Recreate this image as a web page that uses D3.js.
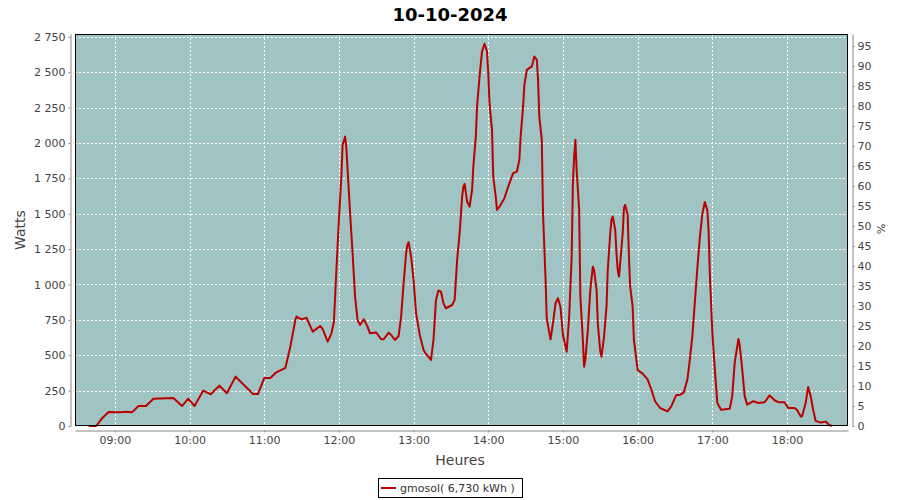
<!DOCTYPE html>
<html><head><meta charset="utf-8">
<script src="https://cdn.jsdelivr.net/npm/d3@7"></script>
<style>body{margin:0;background:#fff}svg{display:block}text{font-family:"DejaVu Sans",sans-serif}</style>
</head><body><svg id="c" width="900" height="500"></svg>
<script>
const title = "10-10-2024";
const seriesName = "gmosol( 6,730 kWh )";
const leftTicks = [0,250,500,750,1000,1250,1500,1750,2000,2250,2500,2750];
const rightTicks = [0,5,10,15,20,25,30,35,40,45,50,55,60,65,70,75,80,85,90,95];
const hourTicks = ["09:00","10:00","11:00","12:00","13:00","14:00","15:00","16:00","17:00","18:00"];
const times = ["08:39","08:45","08:50","08:55","09:05","09:09","09:14","09:19","09:25","09:31","09:47","09:54","09:59","10:04","10:11","10:17","10:24","10:30","10:37","10:51","10:55","11:00","11:05","11:09","11:17","11:21","11:25","11:26","11:30","11:34","11:39","11:45","11:47","11:51","11:54","11:56","11:58","12:00","12:02","12:03","12:05","12:06","12:07","12:09","12:11","12:13","12:15","12:17","12:20","12:23","12:25","12:30","12:34","12:36","12:40","12:42","12:45","12:48","12:50","12:52","12:54","12:55","12:56","12:58","13:00","13:02","13:05","13:08","13:10","13:14","13:16","13:18","13:20","13:22","13:24","13:26","13:31","13:33","13:35","13:37","13:39","13:40","13:41","13:43","13:45","13:47","13:48","13:50","13:51","13:53","13:55","13:57","13:59","14:00","14:01","14:03","14:04","14:06","14:07","14:09","14:13","14:16","14:20","14:23","14:25","14:26","14:28","14:29","14:31","14:35","14:37","14:39","14:40","14:41","14:43","14:44","14:46","14:47","14:50","14:52","14:54","14:56","14:58","15:00","15:03","15:05","15:07","15:08","15:09","15:10","15:11","15:13","15:14","15:16","15:17","15:18","15:20","15:22","15:24","15:25","15:27","15:28","15:30","15:31","15:33","15:35","15:36","15:38","15:39","15:40","15:42","15:43","15:44","15:45","15:46","15:48","15:49","15:50","15:52","15:53","15:54","15:56","15:57","15:59","16:00","16:04","16:08","16:11","16:14","16:18","16:24","16:27","16:31","16:34","16:37","16:40","16:42","16:44","16:46","16:48","16:50","16:52","16:54","16:56","16:57","16:58","17:00","17:02","17:04","17:07","17:14","17:16","17:18","17:21","17:22","17:24","17:26","17:28","17:33","17:37","17:42","17:46","17:50","17:53","17:58","18:01","18:06","18:08","18:11","18:12","18:15","18:17","18:19","18:21","18:23","18:27","18:31","18:34","18:36"];
const watts = [0,0,57,99,97,101,98,141,141,193,198,141,193,141,250,224,285,231,349,226,226,339,339,375,410,561,749,773,754,764,667,707,684,596,655,737,1103,1456,1763,1987,2045,1963,1810,1504,1221,914,749,714,754,702,655,660,613,613,660,643,608,636,773,1009,1221,1280,1299,1197,1032,797,643,537,509,467,608,891,957,950,867,832,855,891,1174,1362,1621,1692,1711,1586,1550,1669,1833,2045,2258,2470,2646,2701,2646,2494,2281,2093,1763,1621,1527,1550,1610,1692,1787,1798,1881,2045,2258,2411,2517,2541,2611,2588,2447,2187,2022,1500,1044,760,613,726,867,903,843,643,525,773,1197,1716,1900,2022,1810,1527,914,608,419,467,679,961,1126,1103,961,726,525,490,631,843,1103,1362,1456,1480,1386,1221,1103,1056,1150,1362,1539,1562,1492,1197,985,843,608,467,396,370,330,258,175,127,103,139,218,220,235,330,474,640,879,1118,1333,1500,1583,1524,1381,1070,665,402,163,115,122,211,450,615,569,402,211,151,175,163,168,216,182,168,168,127,127,115,67,67,163,275,211,115,36,24,31,7,0];
const xStart = "08:28", xEnd = "18:49";
const wattsMax = 2770, pctMax = 98;

const parse = d3.timeParse("%H:%M");
const data = times.map((t,i)=>({t:parse(t), w:watts[i]}));
const svg = d3.select("#c");
const L=75, R=848, T=34, B=426;
const x = d3.scaleTime().domain([parse(xStart), parse(xEnd)]).range([L,R]);
const y = d3.scaleLinear().domain([0,wattsMax]).range([B,T]);
const y2 = d3.scaleLinear().domain([0,pctMax]).range([B,T]);

svg.append("rect").attr("x",L).attr("y",T).attr("width",R-L).attr("height",B-T).attr("fill","#9fc4c3");
const g = svg.append("g").attr("stroke","#fff").attr("stroke-dasharray","2,2").attr("stroke-width",1);
hourTicks.forEach(h=>{const px=Math.round(x(parse(h)))+0.5; g.append("line").attr("x1",px).attr("x2",px).attr("y1",T).attr("y2",B);});
leftTicks.forEach(v=>{if(v===0)return; const py=Math.round(y(v))+0.5; g.append("line").attr("x1",L).attr("x2",R).attr("y1",py).attr("y2",py);});

svg.append("path").datum(data).attr("fill","none").attr("stroke","#bb0000").attr("stroke-width",2)
  .attr("stroke-linejoin","round").attr("d",d3.line().x(d=>x(d.t)).y(d=>y(d.w)));

svg.append("rect").attr("x",L+0.5).attr("y",T+0.5).attr("width",R-L-1).attr("height",B-T-1).attr("fill","none").attr("stroke","#000");

function styleAxis(sel){
  sel.selectAll(".domain").attr("stroke","#888");
  sel.selectAll(".tick line").attr("stroke","#888");
  sel.selectAll(".tick text").attr("fill","#444").style("font-size","11px").style("font-family","DejaVu Sans, sans-serif");
}
const ax = svg.append("g").attr("transform",`translate(0,${B+4.5})`)
  .call(d3.axisBottom(x).tickValues(hourTicks.map(parse)).tickFormat(d3.timeFormat("%H:%M")).tickSizeInner(2).tickSizeOuter(0).tickPadding(4));
styleAxis(ax);
const ay = svg.append("g").attr("transform",`translate(${L-4.5},0)`)
  .call(d3.axisLeft(y).tickValues(leftTicks).tickFormat(d=>d3.format(",")(d).replace(/,/g," ")).tickSizeInner(2).tickSizeOuter(0).tickPadding(3));
styleAxis(ay);
const ay2 = svg.append("g").attr("transform",`translate(${R+4.5},0)`)
  .call(d3.axisRight(y2).tickValues(rightTicks).tickSizeInner(2).tickSizeOuter(0).tickPadding(3));
styleAxis(ay2);

svg.append("text").attr("x",450).attr("y",21).attr("text-anchor","middle").style("font-size","18px").style("font-weight","bold").attr("fill","#000").text(title);
svg.append("text").attr("transform","translate(25,230) rotate(-90)").attr("text-anchor","middle").style("font-size","14px").attr("fill","#444").text("Watts");
svg.append("text").attr("x",460).attr("y",465).attr("text-anchor","middle").style("font-size","14px").attr("fill","#444").text("Heures");
svg.append("text").attr("transform","translate(877,229) rotate(90)").attr("text-anchor","middle").style("font-size","11px").attr("fill","#444").text("%");

const lg = svg.append("g");
lg.append("rect").attr("x",378.5).attr("y",478.5).attr("width",144).attr("height",19).attr("fill","#fff").attr("stroke","#000");
lg.append("line").attr("x1",381).attr("x2",396).attr("y1",488).attr("y2",488).attr("stroke","#bb0000").attr("stroke-width",2);
lg.append("text").attr("x",400).attr("y",492).style("font-size","11px").attr("fill","#333").text(seriesName);
</script></body></html>
